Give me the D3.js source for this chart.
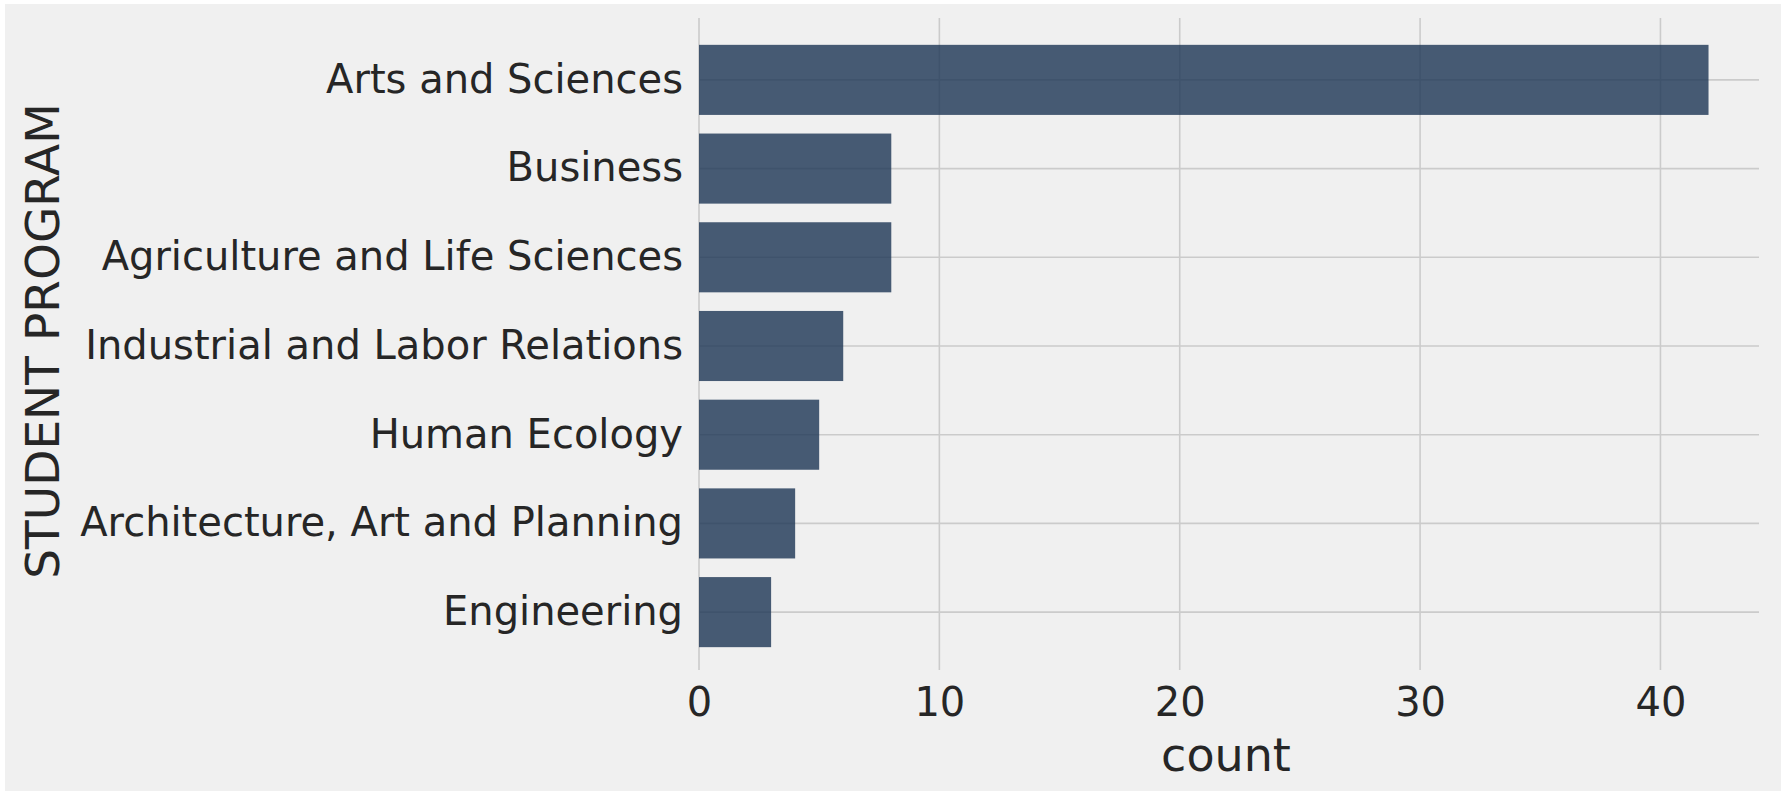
<!DOCTYPE html>
<html>
<head>
<meta charset="utf-8">
<script src="https://cdn.jsdelivr.net/npm/d3@7/dist/d3.min.js"></script>
<style>
  html, body { margin: 0; padding: 0; background: #ffffff; }
  svg { display: block; }
  text { font-family: "DejaVu Sans", sans-serif; fill: #262626; }
</style>
</head>
<body>
<svg id="chart" width="1785" height="795"></svg>
<script>
const categories = [
  "Arts and Sciences",
  "Business",
  "Agriculture and Life Sciences",
  "Industrial and Labor Relations",
  "Human Ecology",
  "Architecture, Art and Planning",
  "Engineering"
];
const counts = [42, 8, 8, 6, 5, 4, 3];
const xTicks = [0, 10, 20, 30, 40];
const xLabel = "count";
const yLabel = "STUDENT PROGRAM";

const W = 1785, H = 795;
const plot = { left: 699, right: 1759, top: 18, bottom: 670 };

const svg = d3.select("#chart");

svg.append("rect").attr("x", 0).attr("y", 0).attr("width", W).attr("height", H).attr("fill", "#ffffff");
svg.append("rect").attr("x", 5).attr("y", 4).attr("width", W - 9).attr("height", H - 8).attr("fill", "#f0f0f0");

const x = d3.scaleLinear().domain([0, 44.1]).range([plot.left, plot.right]);
const y = d3.scaleBand().domain(categories).range([plot.top + 2, plot.bottom + 2])
  .paddingInner(0.21).paddingOuter(0.28);

// grid lines
const grid = svg.append("g");
grid.selectAll("line.v").data(xTicks).join("line")
  .attr("class", "v")
  .attr("x1", d => x(d)).attr("x2", d => x(d))
  .attr("y1", plot.top).attr("y2", plot.bottom)
  .attr("stroke", "#cbcbcb").attr("stroke-width", 1.6);
grid.selectAll("line.h").data(categories).join("line")
  .attr("class", "h")
  .attr("x1", plot.left).attr("x2", plot.right)
  .attr("y1", d => y(d) + y.bandwidth() / 2).attr("y2", d => y(d) + y.bandwidth() / 2)
  .attr("stroke", "#cbcbcb").attr("stroke-width", 1.6);

// bars
svg.append("g").selectAll("rect").data(categories).join("rect")
  .attr("x", x(0))
  .attr("y", d => y(d))
  .attr("width", (d, i) => x(counts[i]) - x(0))
  .attr("height", y.bandwidth())
  .attr("fill", "#1c3454")
  .attr("fill-opacity", 0.8);

// y axis (category labels)
const yAxis = d3.axisLeft(y).tickSize(0).tickPadding(16);
const gy = svg.append("g").attr("transform", `translate(${plot.left},0)`).call(yAxis);
gy.select(".domain").remove();
gy.selectAll("text").attr("font-size", 40).attr("font-family", "DejaVu Sans").attr("fill", "#262626");

// x axis
const xAxis = d3.axisBottom(x).tickValues(xTicks).tickFormat(d3.format("d")).tickSize(0).tickPadding(18);
const gx = svg.append("g").attr("transform", `translate(0,${plot.bottom})`).call(xAxis);
gx.select(".domain").remove();
gx.selectAll("text").attr("font-size", 40).attr("font-family", "DejaVu Sans").attr("fill", "#262626");

// axis labels
svg.append("text")
  .attr("x", (plot.left + plot.right) / 2 - 3)
  .attr("y", 771)
  .attr("text-anchor", "middle")
  .attr("font-size", 46)
  .text(xLabel);

svg.append("text")
  .attr("transform", `translate(59,${(plot.top + plot.bottom) / 2 - 3}) rotate(-90)`)
  .attr("text-anchor", "middle")
  .attr("font-size", 47)
  .text(yLabel);
</script>
</body>
</html>
